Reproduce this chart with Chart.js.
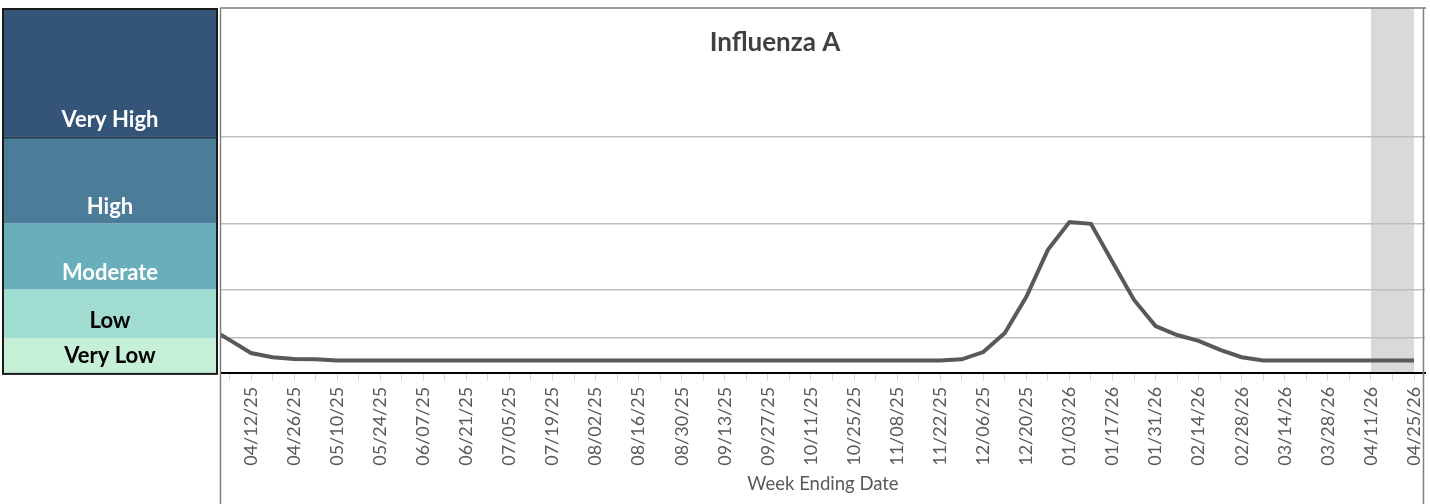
<!DOCTYPE html>
<html>
<head>
<meta charset="utf-8">
<script src="https://cdn.jsdelivr.net/npm/chart.js@4.4.0/dist/chart.umd.min.js"></script>
<style>
  html, body { margin: 0; padding: 0; background: #fff; }
  canvas { display: block; }
</style>
</head>
<body>
<canvas id="fluChart" width="1430" height="504"></canvas>
<script>
// weekly points, week ending date
const weeks = [
  "03/29/25", "04/05/25", "04/12/25", "04/19/25", "04/26/25", "05/03/25", "05/10/25", "05/17/25",
  "05/24/25", "05/31/25", "06/07/25", "06/14/25", "06/21/25", "06/28/25", "07/05/25", "07/12/25",
  "07/19/25", "07/26/25", "08/02/25", "08/09/25", "08/16/25", "08/23/25", "08/30/25", "09/06/25",
  "09/13/25", "09/20/25", "09/27/25", "10/04/25", "10/11/25", "10/18/25", "10/25/25", "11/01/25",
  "11/08/25", "11/15/25", "11/22/25", "11/29/25", "12/06/25", "12/13/25", "12/20/25", "12/27/25",
  "01/03/26", "01/10/26", "01/17/26", "01/24/26", "01/31/26", "02/07/26", "02/14/26", "02/21/26",
  "02/28/26", "03/07/26", "03/14/26", "03/21/26", "03/28/26", "04/04/26", "04/11/26", "04/18/26",
  "04/25/26"
];

const fluA = [
  2.32, 1.95, 1.57, 1.45, 1.40, 1.39, 1.36, 1.36,
  1.36, 1.36, 1.36, 1.36, 1.36, 1.36, 1.36, 1.36,
  1.36, 1.36, 1.36, 1.36, 1.36, 1.36, 1.36, 1.36,
  1.36, 1.36, 1.36, 1.36, 1.36, 1.36, 1.36, 1.36,
  1.36, 1.36, 1.36, 1.39, 1.60, 2.15, 3.19, 4.54,
  5.34, 5.29, 4.19, 3.10, 2.35, 2.09, 1.92, 1.66,
  1.45, 1.36, 1.36, 1.36, 1.36, 1.36, 1.36, 1.36,
  1.36
];

// activity levels, lowest first
const levelNames = ["Very Low", "Low", "Moderate", "High", "Very High"];
const levelCuts = [2, 3.4, 5.3, 7.8];
const levelColors = ["#c6efd8", "#a1dcd1", "#68aebb", "#4b7d99", "#345478"];
const levelText = ["#000000", "#000000", "#ffffff", "#ffffff", "#ffffff"];

// weeks still filling in
const shadedWeeks = ["04/11/26", "04/25/26"];

const FONT = "Lato";

const panelPlugin = {
  id: "levelPanel",
  beforeDraw(chart) {
    const { ctx, chartArea: a } = chart;
    const x = chart.scales.x, y = chart.scales.y;
    ctx.save();

    // grey band for recent weeks
    const x0 = x.getPixelForValue(weeks.indexOf(shadedWeeks[0]));
    const x1 = x.getPixelForValue(weeks.indexOf(shadedWeeks[1]));
    ctx.fillStyle = "#d9d9d9";
    ctx.fillRect(x0, a.top, x1 - x0, a.bottom - a.top);

    // level key on the left, lined up with the y scale
    const edges = [a.bottom, ...levelCuts.map(v => y.getPixelForValue(v)), a.top];
    ctx.textAlign = "center";
    ctx.textBaseline = "middle";
    ctx.font = "bold 22px " + FONT;
    for (let k = 0; k < levelNames.length; k++) {
      ctx.fillStyle = levelColors[k];
      ctx.fillRect(3, edges[k + 1], 214, edges[k] - edges[k + 1]);
      ctx.fillStyle = levelText[k];
      ctx.fillText(levelNames[k], 110, edges[k] - 17);
    }
    // dark line under Very High
    ctx.strokeStyle = "#22384f";
    ctx.lineWidth = 2;
    ctx.beginPath();
    ctx.moveTo(3, edges[4] + 1);
    ctx.lineTo(217, edges[4] + 1);
    ctx.stroke();

    ctx.strokeStyle = "#1a1a1a";
    ctx.lineWidth = 2;
    ctx.strokeRect(3, a.top + 1, 214, a.bottom - a.top);
    ctx.restore();
  },
  afterDraw(chart) {
    const { ctx, chartArea: a } = chart;
    ctx.save();
    // outer frame of the plot
    ctx.strokeStyle = "#7f7f7f";
    ctx.lineWidth = 1.5;
    ctx.beginPath();
    ctx.moveTo(a.left - 0.5, chart.height);
    ctx.lineTo(a.left - 0.5, a.top);
    ctx.lineTo(a.right + 1, a.top);
    ctx.moveTo(a.right - 1.5, a.top);
    ctx.lineTo(a.right - 1.5, chart.height);
    ctx.stroke();

    ctx.fillStyle = "#404040";
    ctx.font = "bold 26px " + FONT;
    ctx.textAlign = "center";
    ctx.textBaseline = "middle";
    ctx.fillText("Influenza A", 775, 43);
    ctx.restore();
  }
};

const ctx = document.getElementById("fluChart").getContext("2d");

new Chart(ctx, {
  type: "line",
  data: {
    datasets: [
      {
        label: "Influenza A",
        data: fluA.map((v, i) => ({ x: i, y: v })),
        borderColor: "#595959",
        borderWidth: 4,
        pointRadius: 0,
        tension: 0,
        clip: 0,
      },
    ],
  },
  options: {
    responsive: false,
    animation: false,
    devicePixelRatio: 1,
    layout: { padding: { left: 221, right: 5, top: 8, bottom: 7 } },
    plugins: {
      legend: { display: false },
      tooltip: { enabled: false },
    },
    scales: {
      x: {
        type: "linear",
        min: 0.607,
        max: 56.51,
        afterBuildTicks: (s) => {
          s.ticks = weeks.map((w, i) => ({ value: i })).filter(t => t.value >= 1);
        },
        afterFit: (s) => {
          // rotated labels fit inside the frame, no extra side room
          s.paddingLeft = 0;
          s.paddingRight = 0;
        },
        ticks: {
          autoSkip: false,
          minRotation: 90,
          maxRotation: 90,
          padding: 6,
          color: "#595959",
          font: { family: FONT, size: 18 },
          callback: (v) => (v % 2 === 0 ? weeks[v] : ""),
        },
        grid: {
          drawOnChartArea: false,
          drawTicks: true,
          tickLength: 8,
          tickColor: "#d9d9d9",
        },
        border: { color: "#000000", width: 2 },
        title: {
          display: true,
          text: "Week Ending Date",
          color: "#595959",
          font: { family: FONT, size: 18.5 },
          padding: { top: 1, bottom: 2 },
        },
      },
      y: {
        min: 1,
        max: 11.5,
        afterBuildTicks: (s) => {
          s.ticks = levelCuts.map(v => ({ value: v }));
        },
        ticks: { display: false },
        grid: { color: "#bfbfbf", lineWidth: 1.5, drawTicks: false },
        border: { display: false },
      },
    },
  },
  plugins: [panelPlugin],
});
</script>
</body>
</html>
